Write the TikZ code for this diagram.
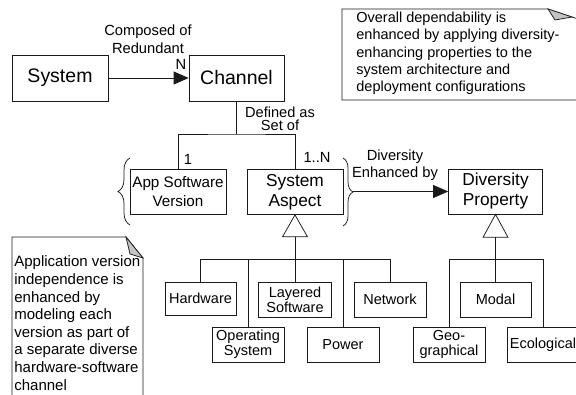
\documentclass[tikz,border=0pt]{standalone}
\usepackage{fontspec}
\setmainfont{Liberation Sans}
\usetikzlibrary{arrows.meta,decorations.pathreplacing,calc}
\definecolor{ln}{HTML}{1A1A1A}
\definecolor{fold}{HTML}{C4C4C4}
\begin{document}
\begin{tikzpicture}[x=1pt,y=-1pt,line width=0.75pt,draw=ln,
  box/.style={draw=ln,inner sep=0pt,align=center},
  big/.style={font=\fontsize{19.5}{22}\selectfont},
  mid/.style={font=\fontsize{17.3}{20}\selectfont},
  asvf/.style={font=\fontsize{15.2}{18.5}\selectfont},
  sub/.style={box,font=\fontsize{14.5}{15}\selectfont,minimum width=72,minimum height=35},
  lbl/.style={inner sep=0pt,align=center,font=\fontsize{14.7}{17.6}\selectfont},
  notetxt/.style={inner sep=0pt,align=left,anchor=north west},
  head/.style={-{Triangle[length=15pt,width=13pt]}},
  inh/.style={draw=ln,fill=white},
  brc/.style={decorate,decoration={brace,amplitude=#1}}
]
\useasboundingbox (0,0) rectangle (576,395);

% main nodes
\node[box,big,minimum width=96,minimum height=46] (sys) at (60,78) {System};
\node[box,big,minimum width=95,minimum height=46] (ch) at (236.5,78) {Channel};
\node[box,asvf,minimum width=96,minimum height=45] (asv) at (178,191.5) {App Software\\Version};
\node[box,mid,minimum width=96,minimum height=45] (sa) at (295,192) {System\\Aspect};
\node[box,mid,minimum width=94,minimum height=45] (dp) at (495.5,191.5) {Diversity\\Property};

% sub nodes
\node[sub,minimum width=71,minimum height=33] (hw) at (200.5,298.5) {Hardware};
\node[sub] (os) at (248,344.5) {Operating\\System};
\node[sub,minimum width=73] (ls) at (295,299.5) {Layered\\Software};
\node[sub] (pw) at (343,344.5) {Power};
\node[sub] (nw) at (390,299.5) {Network};
\node[sub,minimum width=71] (md) at (495.5,299.5) {Modal};
\node[sub] (geo) at (449,344.5) {Geo-\\graphical};
\node[sub] (eco) at (543,344.5) {Ecological};

% System -> Channel
\draw[head] (sys) -- (ch);
\node[lbl] (lcomp) at (148,39.5) {Composed of\\Redundant};
\node[lbl] (lN) at (181,64) {N};

% Channel -> parts
\coordinate (j1) at (236.5,134);
\draw (ch.south) -- (j1);
\draw (asv.north) |- (j1) -| (sa.north);
\node[lbl,font=\fontsize{14.6}{13.3}\selectfont] (ldef) at (280,118.5) {Defined as\\Set of};
\node[lbl] (l1) at (188,159) {1};
\node[lbl] (l1n) at (317,157) {1..N};

% braces
\draw[brc=12pt] (130,225) -- (130,158);
\draw[brc=10pt] (343,158) -- (343,226);
\coordinate (bt) at (353,191.5);
\draw[head] (bt) -- (dp.west);
\node[lbl,font=\fontsize{14.7}{17}\selectfont] (ldiv) at (395,165.5) {Diversity\\Enhanced by};

% generalization System Aspect
\draw[inh] (sa.south) -- ++(-12.5,22) -- ++(25,0) -- cycle;
\coordinate (sat) at ($(sa.south)+(0,22)$);
\coordinate (sab) at ($(sa.south)+(0,44.5)$);
\draw (sat) -- (ls.north);
\draw (hw.north) |- (sab) -| (nw.north);
\draw (os.north) -- (os.north |- sab);
\draw (pw.north) -- (pw.north |- sab);

% generalization Diversity Property
\draw[inh] (dp.south) -- ++(-12.5,23) -- ++(25,0) -- cycle;
\coordinate (dpt) at ($(dp.south)+(0,23)$);
\coordinate (dpb) at ($(dp.south)+(0,45)$);
\draw (dpt) -- (md.north);
\draw (geo.north) |- (dpb) -| (eco.north);

% note 1
\draw (578,100) -- (342,100) -- (342,9) -- (548,9) -- (578,19);
\draw[fill=fold] (548,9) -- (572,17) -- (555,20) -- cycle;
\node[notetxt,font=\fontsize{14.5}{17.3}\selectfont] (n1) at (356,11.8)
  {Overall dependability is\\enhanced by applying diversity-\\enhancing properties to the\\system architecture and\\deployment configurations};

% note 2
\draw (12,400) -- (12,237) -- (126,237) -- (143,258) -- (143,400);
\draw[fill=fold] (126,237) -- (143,258) -- (130,254) -- cycle;
\node[notetxt,font=\fontsize{15}{17.6}\selectfont] (n2) at (14,255.6)
  {Application version\\independence is\\enhanced by\\modeling each\\version as part of\\a separate diverse\\hardware-software\\channel};
\end{tikzpicture}
\end{document}
